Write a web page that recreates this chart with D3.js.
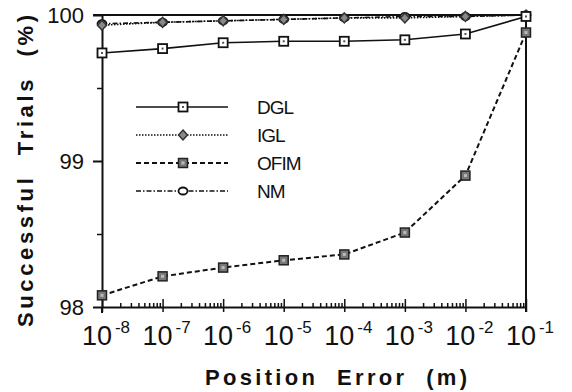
<!DOCTYPE html>
<html lang="en">
<head>
<meta charset="utf-8" />
<title>Successful Trials vs Position Error</title>
<script src="https://cdn.jsdelivr.net/npm/d3@7"></script>
<style>
  body { margin: 0; background: #fff; }
  svg text { font-family: "Liberation Sans", Arial, Helvetica, sans-serif; fill: #111; }
</style>
</head>
<body>
<div id="chart"></div>
<script>
// data
var exponents = [-8, -7, -6, -5, -4, -3, -2, -1];
var dgl  = [99.74, 99.77, 99.81, 99.82, 99.82, 99.83, 99.87, 99.99];
var igl  = [99.93, 99.95, 99.96, 99.97, 99.98, 99.98, 99.99, 100.0];
var ofim = [98.08, 98.21, 98.27, 98.32, 98.36, 98.51, 98.90, 99.88];
var nm   = [99.94, 99.95, 99.96, 99.97, 99.98, 99.99, 99.99, 100.0];
var yTicks = [98, 99, 100];
var yMinor = [98.5, 99.5];
var legendNames = ["DGL", "IGL", "OFIM", "NM"];

var W = 572, H = 392;
var svg = d3.select("#chart").append("svg")
    .attr("width", W).attr("height", H);

var x = d3.scaleLog().domain([1e-8, 1e-1]).range([102, 526]);
var y = d3.scaleLinear().domain([98, 100]).range([307, 15]);

// frame: top and right
svg.append("line").attr("x1", 93).attr("x2", x(1e-1)).attr("y1", y(100)).attr("y2", y(100))
  .attr("stroke", "#111").attr("stroke-width", 2);
svg.append("line").attr("x1", x(1e-1)).attr("x2", x(1e-1)).attr("y1", y(100)).attr("y2", y(98) + 5)
  .attr("stroke", "#111").attr("stroke-width", 2);

// x axis: minor ticks then major ticks (pointing inward)
var minorVals = [];
exponents.slice(0, -1).forEach(function(e) {
  for (var k = 2; k <= 9; k++) minorVals.push(k * Math.pow(10, e));
});
var xMinor = svg.append("g").attr("transform", "translate(0," + y(98) + ")")
  .call(d3.axisBottom(x).tickValues(minorVals).tickSize(-4).tickSizeOuter(0).tickFormat(""));
xMinor.select(".domain").remove();
xMinor.selectAll("line").attr("stroke", "#111").attr("stroke-width", 1.5);

var xMajor = svg.append("g").attr("transform", "translate(0," + y(98) + ")")
  .call(d3.axisBottom(x).tickValues(exponents.map(function(e) { return Math.pow(10, e); }))
    .tickSizeInner(-8).tickSizeOuter(0).tickFormat(""));
xMajor.select(".domain").attr("stroke", "#111").attr("stroke-width", 2);
xMajor.selectAll(".tick line").attr("stroke", "#111").attr("stroke-width", 1.5).attr("y1", 5);

// x tick labels 10^e
var xl = svg.append("g");
exponents.forEach(function(e) {
  var t = xl.append("text").attr("x", x(Math.pow(10, e)) + 4).attr("y", 345)
    .attr("text-anchor", "middle");
  t.append("tspan").attr("font-size", 27).text("10");
  t.append("tspan").attr("font-size", 17).attr("dy", -12).attr("dx", 3).text("-" + Math.abs(e));
});

// y axis
var yAx = svg.append("g").attr("transform", "translate(" + x(1e-8) + ",0)")
  .call(d3.axisLeft(y).tickValues(yTicks).tickSize(9).tickSizeOuter(0).tickPadding(12)
    .tickFormat(d3.format("d")));
yAx.select(".domain").attr("stroke", "#111").attr("stroke-width", 2);
yAx.selectAll(".tick line").attr("stroke", "#111").attr("stroke-width", 2);
yAx.selectAll(".tick text").attr("font-size", 22).attr("font-family", "Liberation Sans, Arial, sans-serif")
  .attr("fill", "#111").attr("dy", "0.36em").attr("x", -18);
var yAxMinor = svg.append("g").attr("transform", "translate(" + x(1e-8) + ",0)")
  .call(d3.axisLeft(y).tickValues(yMinor).tickSize(5).tickSizeOuter(0).tickFormat(""));
yAxMinor.select(".domain").remove();
yAxMinor.selectAll("line").attr("stroke", "#111").attr("stroke-width", 1.5);
// cross at the origin
svg.append("line").attr("x1", x(1e-8)).attr("x2", x(1e-8)).attr("y1", y(98)).attr("y2", y(98) + 6)
  .attr("stroke", "#111").attr("stroke-width", 2);

// axis titles (keep the wider gaps between words)
svg.append("text").attr("x", 336).attr("y", 385).attr("text-anchor", "middle")
  .attr("font-size", 22).attr("font-weight", "bold").style("white-space", "pre")
  .attr("textLength", 262).attr("lengthAdjust", "spacing")
  .text("Position  Error  (m)");
svg.append("text").attr("transform", "translate(33,171) rotate(-90)").attr("text-anchor", "middle")
  .attr("font-size", 22).attr("font-weight", "bold").style("white-space", "pre")
  .attr("textLength", 312).attr("lengthAdjust", "spacing")
  .text("Successful  Trials  (%)");

// series styles
var series = [
  { name: "DGL",  vals: dgl,  dash: null,          width: 1.6, marker: "sqOpen" },
  { name: "IGL",  vals: igl,  dash: "1.5,1.5",     width: 1.6, marker: "diaGray" },
  { name: "OFIM", vals: ofim, dash: "5,3",         width: 2,   marker: "sqDark" },
  { name: "NM",   vals: nm,   dash: "5,2,1.5,2",   width: 1.6, marker: "circOpen" }
];

function drawMarker(g, type, cx, cy) {
  if (type === "sqOpen") {
    g.append("rect").attr("x", cx - 4.5).attr("y", cy - 4.5).attr("width", 9).attr("height", 9)
      .attr("fill", "#fff").attr("stroke", "#111").attr("stroke-width", 1.8);
    g.append("rect").attr("x", cx - 1).attr("y", cy - 1).attr("width", 2).attr("height", 2).attr("fill", "#555");
  } else if (type === "sqDark") {
    g.append("rect").attr("x", cx - 4.5).attr("y", cy - 4.5).attr("width", 9).attr("height", 9)
      .attr("fill", "#777").attr("stroke", "#222").attr("stroke-width", 1.5);
    g.append("rect").attr("x", cx - 1.5).attr("y", cy - 1.5).attr("width", 3).attr("height", 3).attr("fill", "#bbb");
  } else if (type === "diaGray") {
    g.append("path").attr("d", "M" + cx + "," + (cy - 5) + "L" + (cx + 4.5) + "," + cy + "L" + cx + "," + (cy + 5) + "L" + (cx - 4.5) + "," + cy + "Z")
      .attr("fill", "#888").attr("stroke", "#333").attr("stroke-width", 1.5);
  } else {
    g.append("ellipse").attr("cx", cx).attr("cy", cy).attr("rx", 4.5).attr("ry", 3.5)
      .attr("fill", "#fff").attr("stroke", "#111").attr("stroke-width", 1.8);
  }
}

var line = d3.line()
  .x(function(d, i) { return x(Math.pow(10, exponents[i])); })
  .y(function(d) { return y(d); });

var plot = svg.append("g");
series.slice().reverse().forEach(function(s) {
  plot.append("path").datum(s.vals).attr("d", line)
    .attr("fill", "none").attr("stroke", "#111").attr("stroke-width", s.width)
    .attr("stroke-dasharray", s.dash);
});
series.slice().reverse().forEach(function(s) {
  var g = plot.append("g");
  s.vals.forEach(function(v, i) { drawMarker(g, s.marker, x(Math.pow(10, exponents[i])), y(v)); });
});

// legend
var legY = d3.scaleBand().domain(legendNames).range([93, 205]);
var leg = svg.append("g");
series.forEach(function(s) {
  var ly = legY(s.name) + legY.bandwidth() / 2;
  leg.append("line").attr("x1", 136).attr("x2", 228).attr("y1", ly).attr("y2", ly)
    .attr("stroke", "#111").attr("stroke-width", s.width).attr("stroke-dasharray", s.dash);
  drawMarker(leg, s.marker, 183, ly);
  leg.append("text").attr("x", 257).attr("y", ly + 7).attr("font-size", 19)
    .attr("letter-spacing", -1).text(s.name);
});
</script>
</body>
</html>
